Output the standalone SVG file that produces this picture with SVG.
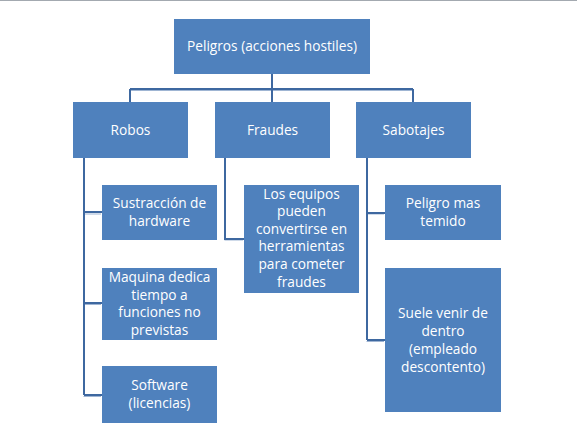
<svg xmlns="http://www.w3.org/2000/svg" width="578" height="435" viewBox="0 0 578 435">
<style>
.box{fill:#4F81BD}
.t{font-family:"Open Sans","Liberation Sans",sans-serif;font-size:13.7px;fill:#ffffff;text-anchor:middle}
.c{fill:none;stroke:#3E68A0;stroke-width:2}
.s{fill:none;stroke:#9FB5D3;stroke-width:1}
</style>
<rect x="0" y="0" width="578" height="435" fill="#ffffff"/>
<line x1="0" y1="0.5" x2="577" y2="0.5" stroke="#A3A9B0" stroke-width="1"/>
<g id="connectors">
<path class="s" d="M130 90.5H413M83.5 396.5H101M83.5 304.5H101M83.5 214H101M224.5 240H243M366.5 214H384M366.5 341.5H384"/>
<path class="c" d="M272 74V89M130 89H413M130 89V102M272 89V102M413 89V102"/>
<path class="c" d="M84 158V395M84 212H102M84 303H102M84 395H102"/>
<path class="c" d="M225 158V239H244"/>
<path class="c" d="M367 158V340M367 213H385M367 340H385"/>
</g>
<g id="n-peligros"><rect class="box" x="174" y="19" width="196" height="55"/><text class="t" x="272" y="51">Peligros (acciones hostiles)</text></g>
<g id="n-robos"><rect class="box" x="73" y="102" width="115" height="56"/><text class="t" x="130.5" y="134.5">Robos</text></g>
<g id="n-fraudes"><rect class="box" x="215" y="102" width="115" height="56"/><text class="t" x="272.5" y="134.5">Fraudes</text></g>
<g id="n-sabotajes"><rect class="box" x="356" y="102" width="115" height="56"/><text class="t" x="413.5" y="134.5">Sabotajes</text></g>
<g id="n-sustraccion"><rect class="box" x="102" y="185" width="115" height="55"/><text class="t" x="159.5" y="208">Sustracción de</text><text class="t" x="159.5" y="226">hardware</text></g>
<g id="n-maquina"><rect class="box" x="102" y="268" width="115" height="72"/><text class="t" x="159.5" y="282">Maquina dedica</text><text class="t" x="159.5" y="300">tiempo  a</text><text class="t" x="159.5" y="317">funciones no</text><text class="t" x="159.5" y="335">previstas</text></g>
<g id="n-software"><rect class="box" x="102" y="366" width="115" height="57"/><text class="t" x="159.5" y="390">Software</text><text class="t" x="159.5" y="408">(licencias)</text></g>
<g id="n-equipos"><rect class="box" x="244" y="185" width="115" height="108"/><text class="t" x="301.5" y="199">Los equipos</text><text class="t" x="301.5" y="216">pueden</text><text class="t" x="301.5" y="234">convertirse  en</text><text class="t" x="301.5" y="251">herramientas</text><text class="t" x="301.5" y="269">para cometer</text><text class="t" x="301.5" y="287">fraudes</text></g>
<g id="n-peligro-mas"><rect class="box" x="385" y="185" width="116" height="55"/><text class="t" x="443" y="208">Peligro mas</text><text class="t" x="443" y="226">temido</text></g>
<g id="n-suele"><rect class="box" x="385" y="268" width="116" height="144"/><text class="t" x="443" y="318">Suele venir de</text><text class="t" x="443" y="336">dentro</text><text class="t" x="443" y="354">(empleado</text><text class="t" x="443" y="372">descontento)</text></g>
</svg>
